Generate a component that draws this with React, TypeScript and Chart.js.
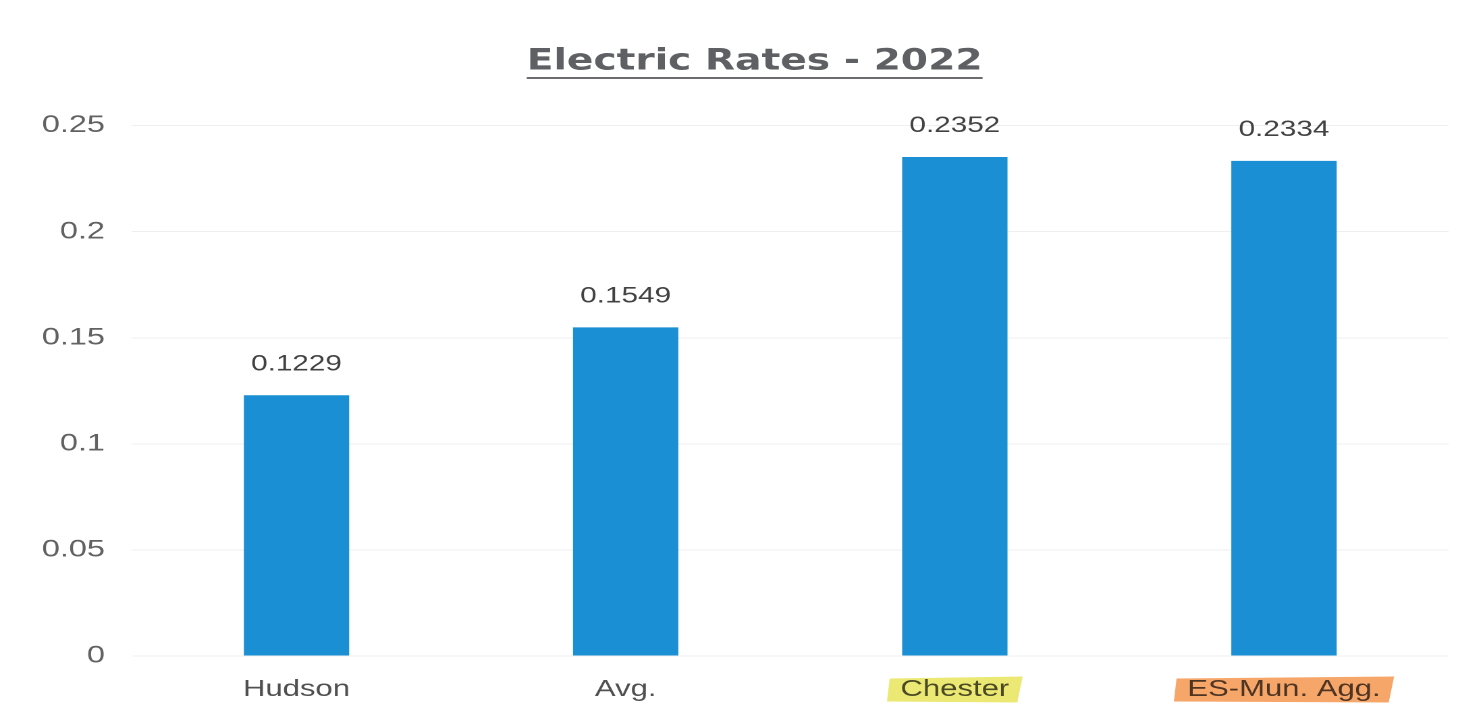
import React, { useEffect, useRef } from "react";
import { Chart, registerables } from "chart.js";

Chart.register(...registerables);

const categories = ["Hudson", "Avg.", "Chester", "ES-Mun. Agg."];
const rates = [0.1229, 0.1549, 0.2352, 0.2334];
const rateLabels = ["0.1229", "0.1549", "0.2352", "0.2334"];
const highlightColors = [null, null, "rgba(232, 228, 90, 0.85)", "rgba(246, 150, 80, 0.85)"];
const titleText = "Electric Rates - 2022";

const SX = 1.35;
const W = 1090;
const H = 725;
const X_TICK_PAD = 22;
const TITLE_FONT = "bold 29px 'DejaVu Sans', sans-serif";

const valueLabelPlugin = {
  id: "valueLabels",
  afterDatasetsDraw(chart: any) {
    const ctx = chart.ctx;
    const meta = chart.getDatasetMeta(0);
    ctx.save();
    ctx.font = "22px 'Liberation Sans', Arial, sans-serif";
    ctx.fillStyle = "#424242";
    ctx.textAlign = "center";
    ctx.textBaseline = "middle";
    meta.data.forEach((bar: any, i: number) => {
      ctx.fillText(rateLabels[i], bar.x, bar.y - 31);
    });
    ctx.restore();
  },
};

const decorPlugin = {
  id: "decor",
  afterDraw(chart: any) {
    const ctx = chart.ctx;
    // title with underline
    const tb = chart.titleBlock;
    if (tb) {
      ctx.save();
      ctx.font = TITLE_FONT;
      const w = ctx.measureText(titleText).width;
      const cx = tb.left + tb.width / 2 + 17;
      const cy = tb.top + 45 + 17;
      ctx.fillStyle = "#5e6063";
      ctx.textAlign = "center";
      ctx.textBaseline = "middle";
      ctx.fillText(titleText, cx, cy);
      ctx.strokeStyle = "#6a6c70";
      ctx.lineWidth = 2;
      ctx.beginPath();
      ctx.moveTo(cx - w / 2, cy + 16);
      ctx.lineTo(cx + w / 2, cy + 16);
      ctx.stroke();
      ctx.restore();
    }
    // highlighter marks on x labels
    const xs = chart.scales.x;
    ctx.save();
    ctx.globalCompositeOperation = "multiply";
    ctx.font = "23px 'Liberation Sans', Arial, sans-serif";
    categories.forEach((c, i) => {
      const col = highlightColors[i];
      if (!col) return;
      const x = xs.getPixelForTick(i);
      const w = ctx.measureText(c).width;
      const y = xs.top + X_TICK_PAD + 11.5;
      ctx.fillStyle = col;
      ctx.beginPath();
      ctx.moveTo(x - w / 2 - 8, y - 11);
      ctx.lineTo(x + w / 2 + 10, y - 13);
      ctx.lineTo(x + w / 2 + 6, y + 13);
      ctx.lineTo(x - w / 2 - 10, y + 12);
      ctx.closePath();
      ctx.fill();
    });
    ctx.restore();
  },
};

export default function App() {
  const ref = useRef<HTMLCanvasElement | null>(null);
  useEffect(() => {
    document.body.style.margin = "0";
    document.body.style.background = "#ffffff";
    if (!ref.current) return;
    const chart = new Chart(ref.current, {
      type: "bar",
      data: {
        labels: categories,
        datasets: [
          {
            data: rates,
            backgroundColor: "#1b8fd3",
            barPercentage: 0.32,
            categoryPercentage: 1,
          },
        ],
      },
      options: {
        responsive: false,
        animation: false,
        devicePixelRatio: 2,
        layout: { padding: { left: 11, right: 17, top: 0, bottom: 2 } },
        plugins: {
          legend: { display: false },
          tooltip: { enabled: false },
          title: {
            display: true,
            text: titleText,
            color: "rgba(0,0,0,0)",
            font: { family: "'DejaVu Sans', sans-serif", size: 28, weight: "bold", lineHeight: 1.2 },
            padding: { top: 45, bottom: 47 },
          },
        },
        scales: {
          x: {
            grid: { display: false, drawTicks: false },
            border: { display: false },
            ticks: {
              color: "#505050",
              padding: X_TICK_PAD,
              font: { family: "'Liberation Sans', Arial, sans-serif", size: 23, lineHeight: 1 },
            },
          },
          y: {
            min: 0,
            max: 0.25,
            grid: { color: "#efefef", drawTicks: false },
            border: { display: false },
            ticks: {
              stepSize: 0.05,
              color: "#626262",
              padding: 20,
              font: { family: "'Liberation Sans', Arial, sans-serif", size: 24 },
              callback: (v: any) => String(Number(Number(v).toFixed(2))),
            },
          },
        },
      },
      plugins: [valueLabelPlugin, decorPlugin],
    });
    return () => chart.destroy();
  }, []);
  return (
    <div style={{ width: W, height: H, transform: `scaleX(${SX})`, transformOrigin: "0 0" }}>
      <canvas ref={ref} width={W} height={H} style={{ width: W, height: H, display: "block" }} />
    </div>
  );
}
